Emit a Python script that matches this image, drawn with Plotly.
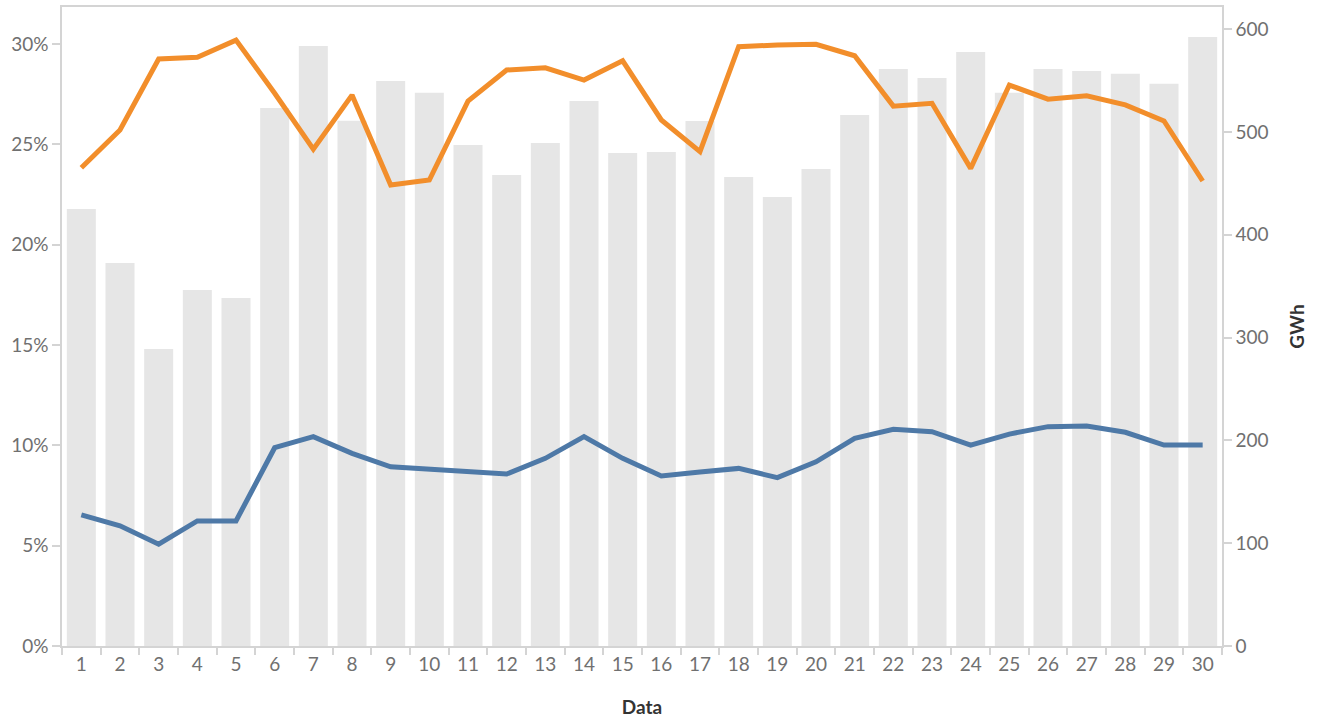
import plotly.graph_objects as go

days = [str(i) for i in range(1, 31)]

gwh = [425.1, 372.6, 288.9, 346.3, 338.5, 523.3, 583.7, 511.0, 549.6, 538.2,
       487.4, 458.2, 489.3, 530.2, 479.6, 480.5, 510.7, 456.2, 436.8, 464.0,
       516.5, 561.3, 552.5, 577.8, 538.2, 561.3, 559.3, 556.7, 547.0, 592.4]

orange_pct = [23.83, 25.71, 29.25, 29.33, 30.19, 27.54, 24.76, 27.45, 22.97, 23.22,
              27.15, 28.70, 28.81, 28.20, 29.16, 26.21, 24.63, 29.86, 29.95, 29.98,
              29.41, 26.90, 27.04, 23.80, 27.95, 27.25, 27.42, 26.96, 26.16, 23.17]

blue_pct = [6.53, 5.99, 5.07, 6.23, 6.23, 9.88, 10.43, 9.60, 8.93, 8.82,
            8.74, 8.57, 9.35, 10.43, 9.35, 8.47, 8.67, 8.85, 8.39, 9.18,
            10.35, 10.80, 10.68, 10.01, 10.56, 10.93, 10.96, 10.65, 10.01, 10.01]

pct_ticks = [0, 5, 10, 15, 20, 25, 30]
pct_labels = ["0%", "5%", "10%", "15%", "20%", "25%", "30%"]
gwh_ticks = [0, 100, 200, 300, 400, 500, 600]

FONT = "Lato"
AXIS_COLOR = "#d4d4d4"
TICK_FONT = dict(family=FONT, size=19, color="#707070")

fig = go.Figure()
fig.add_trace(go.Bar(x=days, y=gwh, marker=dict(color="#e6e6e6", line=dict(width=0)),
                     yaxis="y", showlegend=False, hoverinfo="skip"))
fig.add_trace(go.Scatter(x=days, y=orange_pct, mode="lines",
                         line=dict(color="#f28e2b", width=5), yaxis="y2", showlegend=False))
fig.add_trace(go.Scatter(x=days, y=blue_pct, mode="lines",
                         line=dict(color="#4e79a7", width=5), yaxis="y2", showlegend=False))

fig.update_layout(
    width=1318, height=719,
    margin=dict(l=62, r=96, t=7, b=73, autoexpand=False),
    paper_bgcolor="white", plot_bgcolor="white",
    bargap=0.25,
    xaxis=dict(
        type="category", tickson="boundaries", ticks="outside", ticklen=7,
        tickcolor=AXIS_COLOR, tickwidth=1.5, showline=True, linecolor=AXIS_COLOR, linewidth=1.5,
        mirror=True, showgrid=False, tickfont=TICK_FONT, automargin=False,
        title=dict(text="Data", font=dict(family=FONT, size=19, color="#333333", weight="bold"),
                   standoff=27),
    ),
    yaxis=dict(
        side="right", range=[0, 621.6], tickvals=gwh_ticks, ticks="outside", ticklen=8,
        tickcolor=AXIS_COLOR, tickwidth=1.5, showline=True, linecolor=AXIS_COLOR, linewidth=1.5,
        showgrid=False, zeroline=False, tickfont=TICK_FONT, automargin=False,
        title=dict(text="GWh", font=dict(family=FONT, size=19, color="#333333", weight="bold"),
                   standoff=23),
    ),
    yaxis2=dict(
        overlaying="y", side="left", range=[0, 31.84], tickmode="array",
        tickvals=pct_ticks, ticktext=pct_labels,
        ticks="outside", ticklen=8, tickcolor=AXIS_COLOR, tickwidth=1.5,
        showline=True, linecolor=AXIS_COLOR, linewidth=1.5, automargin=False,
        showgrid=False, zeroline=False, tickfont=TICK_FONT,
    ),
)

fig.write_html("out.html", config={"displayModeBar": False},
               post_script="document.body.style.margin='0px';")
